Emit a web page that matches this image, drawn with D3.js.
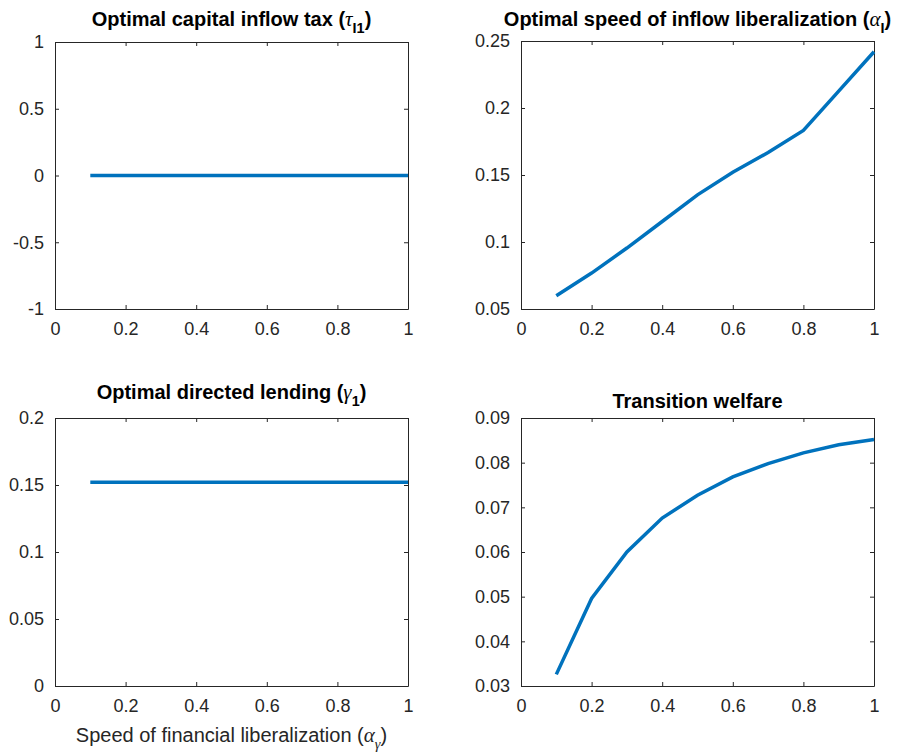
<!DOCTYPE html>
<html>
<head>
<meta charset="utf-8">
<script src="https://cdn.jsdelivr.net/npm/d3@7"></script>
<style>
  body { margin: 0; background: #fff; }
  text { font-family: "Liberation Sans", Arial, Helvetica, sans-serif; }
</style>
</head>
<body>
<svg width="904" height="753"></svg>
<script>
// x values: speed of financial liberalization
const speed = [0.1, 0.2, 0.3, 0.4, 0.5, 0.6, 0.7, 0.8, 0.9, 1.0];

// series
const inflowTax = [0, 0, 0, 0, 0, 0, 0, 0, 0, 0];
const inflowSpeed = [0.0599, 0.0768, 0.0955, 0.1153, 0.1352, 0.1521, 0.1668, 0.1832, 0.2126, 0.242];
const directedLending = [0.152, 0.152, 0.152, 0.152, 0.152, 0.152, 0.152, 0.152, 0.152, 0.152];
const welfare = [0.0326, 0.0496, 0.0600, 0.0676, 0.0727, 0.0768, 0.0798, 0.0822, 0.0840, 0.0852];

// tick labels
const xTicks = [0, 0.2, 0.4, 0.6, 0.8, 1];
const taxTicks = [-1, -0.5, 0, 0.5, 1];
const speedTicks = [0.05, 0.1, 0.15, 0.2, 0.25];
const lendingTicks = [0, 0.05, 0.1, 0.15, 0.2];
const welfareTicks = [0.03, 0.04, 0.05, 0.06, 0.07, 0.08, 0.09];

const svg = d3.select('svg');
const axisColor = '#262626';
const lineColor = '#0072BD';
const greekFont = '"Liberation Serif", "DejaVu Serif", serif';

// panel boxes [left, top, right, bottom] and title baselines
const panels = [
  { box: [55, 42, 408, 309], titleY: 26, y: inflowTax, domain: [-1, 1], ticks: taxTicks,
    title: [['Optimal capital inflow tax (', 'b'], ['τ', 'g'], ['I1', 'sb'], [')', 'b']] },
  { box: [521, 41, 874, 309], titleY: 26, y: inflowSpeed, domain: [0.05, 0.25], ticks: speedTicks,
    title: [['Optimal speed of inflow liberalization (', 'b'], ['α', 'g'], ['I', 'sb'], [')', 'b']] },
  { box: [55, 418, 408, 686], titleY: 399, y: directedLending, domain: [0, 0.2], ticks: lendingTicks,
    title: [['Optimal directed lending (', 'b'], ['γ', 'g'], ['1', 'sb'], [')', 'b']] },
  { box: [521, 418, 874, 686], titleY: 408, y: welfare, domain: [0.03, 0.09], ticks: welfareTicks,
    title: [['Transition welfare', 'b']] }
];

const fmt = d => String(d);

// parts are [text, style]: b=bold, n=normal, g=greek italic, gs=greek subscript, sb=bold subscript
function richText(sel, parts, size) {
  let down = 0;
  parts.forEach(([t, st]) => {
    const ts = sel.append('tspan').text(t);
    const sub = st === 'sb' || st === 'gs';
    const shift = sub ? 7 : 0;
    if (shift !== down) { ts.attr('dy', shift - down); down = shift; }
    if (st === 'b' || st === 'sb') ts.attr('font-weight', 'bold');
    if (st === 'g' || st === 'gs') ts.attr('font-family', greekFont).attr('font-style', 'italic').attr('font-weight', 'normal');
    if (st === 'g') ts.attr('font-size', size * 1.05);
    if (sub) ts.attr('font-size', size * 0.72);
  });
}

panels.forEach(p => {
  const [x0, y0, x1, y1] = p.box;
  const x = d3.scaleLinear().domain([0, 1]).range([x0, x1]);
  const y = d3.scaleLinear().domain(p.domain).range([y1, y0]);
  const g = svg.append('g');

  // bottom axis
  g.append('g')
    .attr('transform', `translate(0,${y1})`)
    .call(d3.axisBottom(x).tickValues(xTicks).tickFormat(fmt).tickSizeInner(-4).tickSizeOuter(0).tickPadding(13))
    .call(a => a.selectAll('text').attr('font-size', 18).attr('fill', axisColor));
  // top axis (box ticks)
  g.append('g')
    .attr('transform', `translate(0,${y0})`)
    .call(d3.axisTop(x).tickValues(xTicks).tickFormat('').tickSizeInner(-4).tickSizeOuter(0));
  // left axis
  g.append('g')
    .attr('transform', `translate(${x0},0)`)
    .call(d3.axisLeft(y).tickValues(p.ticks).tickFormat(fmt).tickSizeInner(-4).tickSizeOuter(0).tickPadding(11))
    .call(a => a.selectAll('text').attr('font-size', 18).attr('fill', axisColor));
  // right axis
  g.append('g')
    .attr('transform', `translate(${x1},0)`)
    .call(d3.axisRight(y).tickValues(p.ticks).tickFormat('').tickSizeInner(-4).tickSizeOuter(0));

  g.selectAll('.domain, .tick line').attr('stroke', axisColor).attr('stroke-width', 1);

  // data line
  g.append('path')
    .datum(speed.map((s, i) => [s, p.y[i]]))
    .attr('fill', 'none')
    .attr('stroke', lineColor)
    .attr('stroke-width', 3.5)
    .attr('d', d3.line().x(d => x(d[0])).y(d => y(d[1])));

  // title
  const t = g.append('text')
    .attr('x', (x0 + x1) / 2)
    .attr('y', p.titleY)
    .attr('text-anchor', 'middle')
    .attr('font-size', 20)
    .attr('fill', '#000');
  richText(t, p.title, 20);
});

// shared x label under bottom-left panel
const xl = svg.append('text')
  .attr('x', (55 + 408) / 2)
  .attr('y', 742)
  .attr('text-anchor', 'middle')
  .attr('font-size', 20)
  .attr('fill', axisColor);
richText(xl, [['Speed of financial liberalization (', 'n'], ['α', 'g'], ['γ', 'gs'], [')', 'n']], 20);
</script>
</body>
</html>
